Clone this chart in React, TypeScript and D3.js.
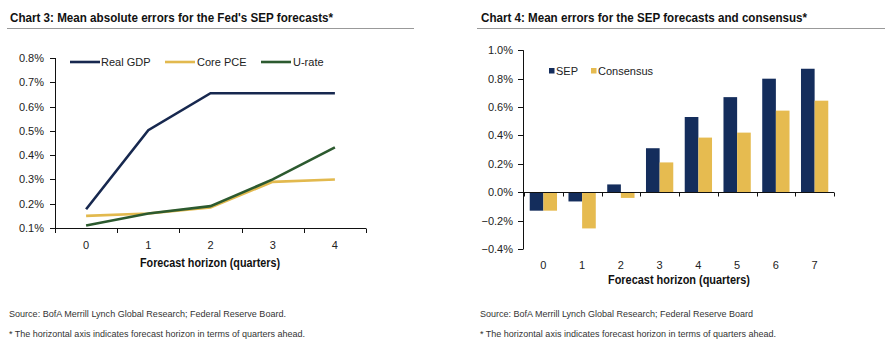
import React from "react";
import * as d3 from "d3";

// ---- Chart 3 data ----
const horizons3 = ["0", "1", "2", "3", "4"];
const realGdp = [0.177, 0.503, 0.655, 0.655, 0.655];
const corePce = [0.15, 0.16, 0.185, 0.29, 0.3];
const uRate = [0.11, 0.16, 0.19, 0.3, 0.432];
const yTicks3 = [0.1, 0.2, 0.3, 0.4, 0.5, 0.6, 0.7, 0.8];
const series3 = [
  { name: "Real GDP", values: realGdp, color: "#17284f" },
  { name: "Core PCE", values: corePce, color: "#e2b94e" },
  { name: "U-rate", values: uRate, color: "#2c5a2f" },
];

// ---- Chart 4 data ----
const horizons4 = ["0", "1", "2", "3", "4", "5", "6", "7"];
const sepValues = [-0.13, -0.065, 0.055, 0.31, 0.53, 0.67, 0.8, 0.87];
const consensusValues = [-0.13, -0.255, -0.04, 0.21, 0.385, 0.42, 0.575, 0.645];
const yTicks4 = [-0.4, -0.2, 0, 0.2, 0.4, 0.6, 0.8, 1.0];
const series4 = [
  { name: "SEP", values: sepValues, color: "#142d5c" },
  { name: "Consensus", values: consensusValues, color: "#e6bb50" },
];

const FONT = "'Liberation Sans', Arial, Helvetica, sans-serif";
const TXT = "#222";

export default function App() {
  // Chart 3 scales
  const x3 = d3.scaleBand().domain(horizons3).range([55, 366]);
  const y3 = d3.scaleLinear().domain([0.1, 0.8]).range([228, 58]);
  const line = d3
    .line<number>()
    .x((_, i) => (x3(horizons3[i]) as number) + x3.bandwidth() / 2)
    .y((d) => y3(d));
  const ticks3x = [...horizons3.map((h) => x3(h) as number), 366];

  // Chart 4 scales
  const x4 = d3.scaleBand().domain(horizons4).range([524, 834]);
  const y4 = d3.scaleLinear().domain([-0.4, 1.0]).range([249, 50.3]);
  const inner = d3
    .scaleBand()
    .domain(series4.map((s) => s.name))
    .range([0, x4.bandwidth()])
    .paddingOuter(0.42)
    .paddingInner(0);
  const ticks4x = [...horizons4.map((h) => x4(h) as number), 834];

  const legend3 = [
    { x: 70, tx: 101 },
    { x: 165, tx: 197 },
    { x: 261, tx: 293 },
  ];
  const legend4 = [
    { x: 549, tx: 556 },
    { x: 591, tx: 598 },
  ];

  return (
    <svg
      width={890}
      height={356}
      style={{ position: "absolute", left: 0, top: 0, background: "#fff" }}
      fontFamily={FONT}
    >
      <rect width={890} height={356} fill="#fff" />
      {/* ===== Chart 3 ===== */}
      <text x={10} y={22} fontSize={13} fontWeight="bold" fill="#111" textLength={323} lengthAdjust="spacingAndGlyphs">
        Chart 3: Mean absolute errors for the Fed's SEP forecasts*
      </text>
      <line x1={7} x2={414} y1={28.5} y2={28.5} stroke="#999" strokeWidth={1} />

      {/* y axis */}
      <line x1={55.5} x2={55.5} y1={y3(0.8)} y2={y3(0.1)} stroke="#111" />
      {yTicks3.map((t) => (
        <g key={t}>
          <line x1={50} x2={55.5} y1={Math.round(y3(t)) + 0.5} y2={Math.round(y3(t)) + 0.5} stroke="#111" />
          <text x={44} y={y3(t) + 4} fontSize={11} textAnchor="end" fill={TXT}>
            {d3.format(".1f")(t)}%
          </text>
        </g>
      ))}
      {/* x axis */}
      <line x1={55} x2={366} y1={228.5} y2={228.5} stroke="#111" />
      {ticks3x.map((tx, i) => (
        <line key={i} x1={Math.round(tx) + 0.5} x2={Math.round(tx) + 0.5} y1={228.5} y2={233} stroke="#111" />
      ))}
      {horizons3.map((h) => (
        <text key={h} x={(x3(h) as number) + x3.bandwidth() / 2} y={249} fontSize={11} textAnchor="middle" fill={TXT}>
          {h}
        </text>
      ))}
      <text x={210} y={267} fontSize={12} fontWeight="bold" textAnchor="middle" fill="#111" textLength={140} lengthAdjust="spacingAndGlyphs">
        Forecast horizon (quarters)
      </text>

      {/* lines: draw Core PCE first, U-rate on top, GDP */}
      {[series3[1], series3[2], series3[0]].map((s) => (
        <path key={s.name} d={line(s.values) as string} fill="none" stroke={s.color} strokeWidth={2.6} strokeLinejoin="miter" />
      ))}
      {series3.map((s, i) => (
        <g key={s.name}>
          <line x1={legend3[i].x} x2={legend3[i].x + 30} y1={62} y2={62} stroke={s.color} strokeWidth={2.6} />
          <text x={legend3[i].tx} y={66} fontSize={11} fill={TXT}>
            {s.name}
          </text>
        </g>
      ))}

      <text x={9} y={317} fontSize={9.5} fill="#333" textLength={277} lengthAdjust="spacingAndGlyphs">
        Source: BofA Merrill Lynch Global Research; Federal Reserve Board.
      </text>
      <text x={9} y={337} fontSize={9.5} fill="#333" textLength={296} lengthAdjust="spacingAndGlyphs">
        * The horizontal axis indicates forecast horizon in terms of quarters ahead.
      </text>

      {/* ===== Chart 4 ===== */}
      <text x={481} y={22} fontSize={13} fontWeight="bold" fill="#111" textLength={326} lengthAdjust="spacingAndGlyphs">
        Chart 4: Mean errors for the SEP forecasts and consensus*
      </text>
      <line x1={477} x2={885} y1={28.5} y2={28.5} stroke="#999" strokeWidth={1} />

      {/* bars */}
      {horizons4.map((h, i) => (
        <g key={h} transform={`translate(${x4(h)},0)`}>
          {series4.map((s) => {
            const v = s.values[i];
            return (
              <rect
                key={s.name}
                x={inner(s.name) as number}
                width={inner.bandwidth()}
                y={Math.min(y4(v), y4(0))}
                height={Math.abs(y4(v) - y4(0))}
                fill={s.color}
              />
            );
          })}
        </g>
      ))}

      {/* y axis */}
      <line x1={523.5} x2={523.5} y1={y4(1.0)} y2={y4(-0.4)} stroke="#111" />
      {yTicks4.map((t) => (
        <g key={t}>
          <line x1={518} x2={523.5} y1={Math.round(y4(t)) + 0.5} y2={Math.round(y4(t)) + 0.5} stroke="#111" />
          <text x={513} y={y4(t) + 4} fontSize={11} textAnchor="end" fill={TXT}>
            {d3.format(".1f")(t)}%
          </text>
        </g>
      ))}
      {/* x axis at zero */}
      <line x1={523.5} x2={834} y1={Math.round(y4(0)) + 0.5} y2={Math.round(y4(0)) + 0.5} stroke="#111" />
      {ticks4x.map((tx, i) => (
        <line
          key={i}
          x1={Math.round(tx) + 0.5}
          x2={Math.round(tx) + 0.5}
          y1={Math.round(y4(0)) + 0.5}
          y2={Math.round(y4(0)) + 4.5}
          stroke="#111"
        />
      ))}
      {horizons4.map((h) => (
        <text key={h} x={(x4(h) as number) + x4.bandwidth() / 2} y={269} fontSize={11} textAnchor="middle" fill={TXT}>
          {h}
        </text>
      ))}
      <text x={679} y={284} fontSize={12} fontWeight="bold" textAnchor="middle" fill="#111" textLength={142} lengthAdjust="spacingAndGlyphs">
        Forecast horizon  (quarters)
      </text>

      {series4.map((s, i) => (
        <g key={s.name}>
          <rect x={legend4[i].x} y={68} width={5.5} height={5.5} fill={s.color} />
          <text x={legend4[i].tx} y={75} fontSize={11} fill={TXT}>
            {s.name}
          </text>
        </g>
      ))}

      <text x={480} y={317} fontSize={9.5} fill="#333" textLength={273} lengthAdjust="spacingAndGlyphs">
        Source: BofA Merrill Lynch Global Research; Federal Reserve Board
      </text>
      <text x={480} y={337} fontSize={9.5} fill="#333" textLength={296} lengthAdjust="spacingAndGlyphs">
        * The horizontal axis indicates forecast horizon in terms of quarters ahead.
      </text>
    </svg>
  );
}
